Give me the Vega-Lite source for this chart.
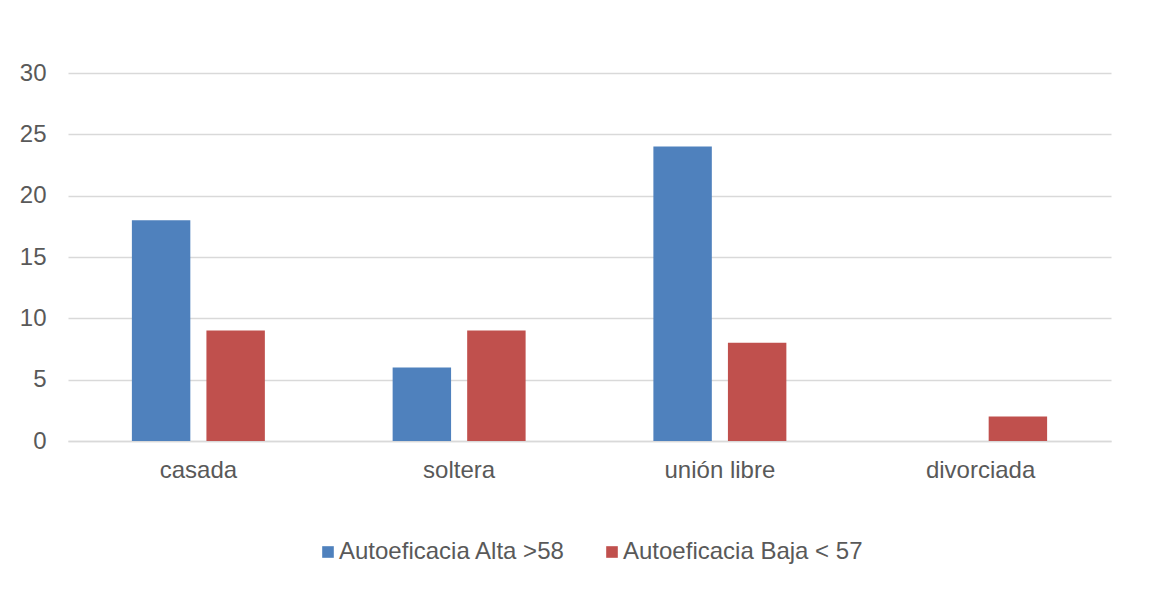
{
  "$schema": "https://vega.github.io/schema/vega-lite/v6.json",
  "autosize": {"type": "none"},
  "width": 1043,
  "height": 368,
  "padding": {"left": 68, "top": 73, "right": 60, "bottom": 149},
  "background": "white",
  "data": {
    "values": [
      {"estado": "casada", "serie": "Autoeficacia Alta >58", "valor": 18},
      {"estado": "casada", "serie": "Autoeficacia Baja < 57", "valor": 9},
      {"estado": "soltera", "serie": "Autoeficacia Alta >58", "valor": 6},
      {"estado": "soltera", "serie": "Autoeficacia Baja < 57", "valor": 9},
      {"estado": "unión libre", "serie": "Autoeficacia Alta >58", "valor": 24},
      {"estado": "unión libre", "serie": "Autoeficacia Baja < 57", "valor": 8},
      {"estado": "divorciada", "serie": "Autoeficacia Alta >58", "valor": 0},
      {"estado": "divorciada", "serie": "Autoeficacia Baja < 57", "valor": 2}
    ]
  },
  "mark": {"type": "bar"},
  "encoding": {
    "x": {
      "field": "estado", "type": "nominal",
      "sort": ["casada", "soltera", "unión libre", "divorciada"],
      "scale": {"paddingInner": 0.49, "paddingOuter": 0.245},
      "axis": {"title": null, "labelAngle": 0, "ticks": false, "domain": true, "domainColor": "#d9d9d9", "domainWidth": 1.5, "labelPadding": 17, "labelFontSize": 24, "labelColor": "#595959", "labelFont": "Liberation Sans"}
    },
    "xOffset": {
      "field": "serie", "type": "nominal",
      "scale": {"paddingInner": 0.216, "paddingOuter": 0}
    },
    "y": {
      "field": "valor", "type": "quantitative",
      "scale": {"domain": [0, 30], "nice": false},
      "axis": {"title": null, "values": [0, 5, 10, 15, 20, 25, 30], "ticks": false, "domain": false, "gridColor": "#d9d9d9", "gridWidth": 1.5, "labelPadding": 22, "labelFontSize": 24, "labelColor": "#595959", "labelFont": "Liberation Sans"}
    },
    "color": {
      "field": "serie", "type": "nominal",
      "scale": {"range": ["#4f81bd", "#c0504d"]},
      "legend": {
        "title": null, "orient": "none", "direction": "horizontal",
        "legendX": 248, "legendY": 467,
        "symbolType": "square", "symbolSize": 135, "symbolStrokeWidth": 0,
        "labelFontSize": 24, "labelColor": "#595959", "labelFont": "Liberation Sans",
        "labelOffset": -1, "columnPadding": 34, "labelLimit": 0
      }
    }
  },
  "config": {"view": {"stroke": null}}
}
